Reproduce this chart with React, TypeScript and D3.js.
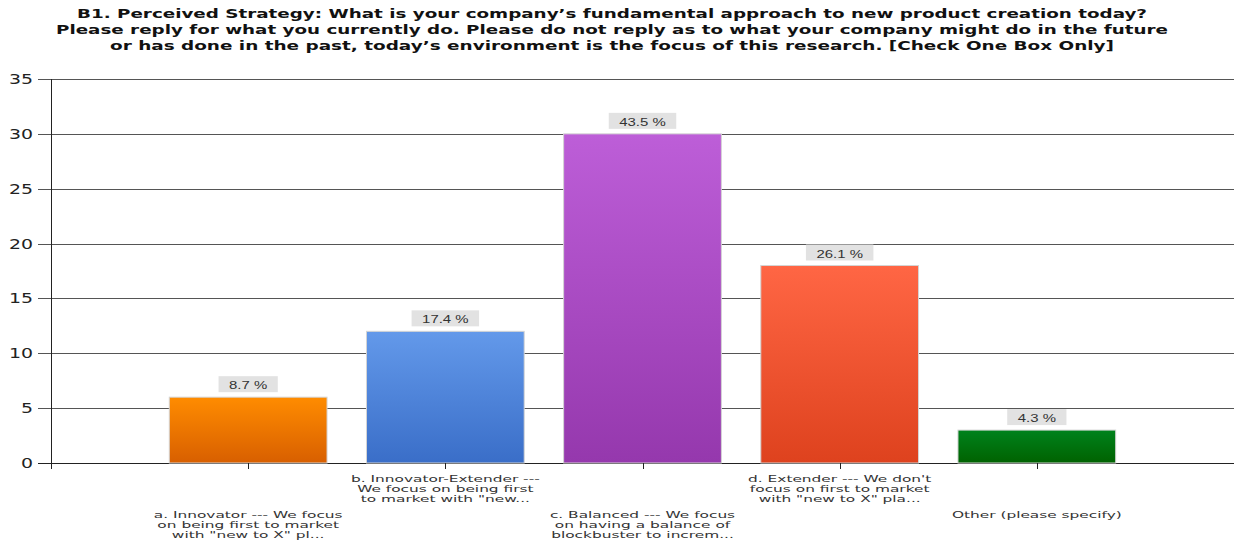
import React, { useEffect, useRef } from "react";
import * as d3 from "d3";

const titleLines = [
  "B1. Perceived Strategy: What is your company\u2019s fundamental approach to new product creation today?",
  "Please reply for what you currently do. Please do not reply as to what your company might do in the future",
  "or has done in the past, today\u2019s environment is the focus of this research. [Check One Box Only]",
];
const titleLineWidths = [1070, 1112, 1004];

const categoryLabels: string[][] = [
  ["a. Innovator --- We focus", "on being first to market", "with \"new to X\" pl..."],
  ["b. Innovator-Extender ---", "We focus on being first", "to market with \"new..."],
  ["c. Balanced --- We focus", "on having a balance of", "blockbuster to increm..."],
  ["d. Extender --- We don't", "focus on first to market", "with \"new to X\" pla..."],
  ["Other (please specify)"],
];
const values = [6, 12, 30, 18, 3];
const yTicks = [0, 5, 10, 15, 20, 25, 30, 35];
const colorTop = ["#ff8c00", "#6399ea", "#bd5ed8", "#ff6644", "#00821c"];
const colorBottom = ["#d85f00", "#3a6ec8", "#9538ad", "#de421e", "#006200"];

export default function App() {
  const ref = useRef<SVGSVGElement>(null);
  useEffect(() => {
    const svg = d3.select(ref.current);
    svg.selectAll("*").remove();
    const W = 1234;
    const left = 51;
    const gridLeft = 38;
    const total = d3.sum(values);

    const y = d3.scaleLinear().domain([0, 35]).range([463, 79]);
    const x = d3
      .scalePoint<number>()
      .domain(values.map((_, i) => i))
      .range([left, W])
      .padding(1);
    const bw = x.step() * 0.8;

    const defs = svg.append("defs");
    values.forEach((_, i) => {
      const g = defs
        .append("linearGradient")
        .attr("id", "g" + i)
        .attr("x1", 0)
        .attr("y1", 0)
        .attr("x2", 0)
        .attr("y2", 1);
      g.append("stop").attr("offset", "0%").attr("stop-color", colorTop[i]);
      g.append("stop").attr("offset", "100%").attr("stop-color", colorBottom[i]);
    });

    // title
    const tg = svg.append("g");
    titleLines.forEach((t, i) => {
      tg.append("text")
        .attr("x", 612)
        .attr("y", 18 + i * 16)
        .attr("text-anchor", "middle")
        .attr("font-family", "DejaVu Sans")
        .attr("font-weight", "bold")
        .attr("font-size", 12)
        .attr("fill", "#111")
        .attr("textLength", titleLineWidths[i])
        .attr("lengthAdjust", "spacingAndGlyphs")
        .text(t);
    });

    // gridlines
    const grid = svg.append("g");
    yTicks.forEach((t) => {
      const yy = Math.round(y(t)) + 0.5;
      grid
        .append("line")
        .attr("x1", gridLeft)
        .attr("x2", W)
        .attr("y1", yy)
        .attr("y2", yy)
        .attr("stroke", t === 0 ? "#222" : "#555")
        .attr("stroke-width", 1);
      grid
        .append("text")
        .attr("transform", `translate(33,${y(t) + 5}) scale(1.4,1)`)
        .attr("text-anchor", "end")
        .attr("font-family", "DejaVu Sans")
        .attr("font-size", 13.5)
        .attr("fill", "#222")
        .text(String(t));
    });

    // y axis line
    svg
      .append("line")
      .attr("x1", left + 0.5)
      .attr("x2", left + 0.5)
      .attr("y1", y(35))
      .attr("y2", 469)
      .attr("stroke", "#222");

    // bars
    const bars = svg.append("g");
    values.forEach((v, i) => {
      const cx = x(i)!;
      bars
        .append("rect")
        .attr("x", cx - bw / 2)
        .attr("y", y(v))
        .attr("width", bw)
        .attr("height", y(0) - y(v))
        .attr("fill", `url(#g${i})`)
        .attr("stroke", "#d4d4d4")
        .attr("stroke-width", 1);
      // x tick
      bars
        .append("line")
        .attr("x1", Math.round(cx) + 0.5)
        .attr("x2", Math.round(cx) + 0.5)
        .attr("y1", y(0))
        .attr("y2", 469)
        .attr("stroke", "#222");
    });

    // value labels
    const vl = svg.append("g");
    values.forEach((v, i) => {
      const cx = x(i)!;
      const label = ((v / total) * 100).toFixed(1) + " %";
      const g = vl.append("g");
      const rect = g.append("rect").attr("fill", "#e2e2e2");
      const txt = g
        .append("text")
        .attr("transform", `translate(${cx},${y(v) - 8}) scale(1.3,1)`)
        .attr("text-anchor", "middle")
        .attr("font-family", "Liberation Sans")
        .attr("font-size", 11.5)
        .attr("fill", "#333")
        .text(label);
      const tw = (txt.node() as SVGTextElement).getComputedTextLength() * 1.3;
      const boxW = tw + 21;
      rect
        .attr("x", cx - boxW / 2)
        .attr("y", y(v) - 21)
        .attr("width", boxW)
        .attr("height", 16);
    });

    // category labels
    const cl = svg.append("g");
    categoryLabels.forEach((lines, i) => {
      const cx = x(i)!;
      const base = i % 2 === 1 ? 481.5 : 518;
      lines.forEach((ln, j) => {
        cl.append("text")
          .attr("transform", `translate(${cx},${base + j * 10.2}) scale(1.62,1)`)
          .attr("text-anchor", "middle")
          .attr("font-family", "DejaVu Sans")
          .attr("font-size", 9.5)
          .attr("fill", "#333")
          .text(ln);
      });
    });
  }, []);

  return (
    <svg
      ref={ref}
      width={1234}
      height={540}
      style={{ position: "absolute", left: 0, top: 0, background: "#fff" }}
    />
  );
}
